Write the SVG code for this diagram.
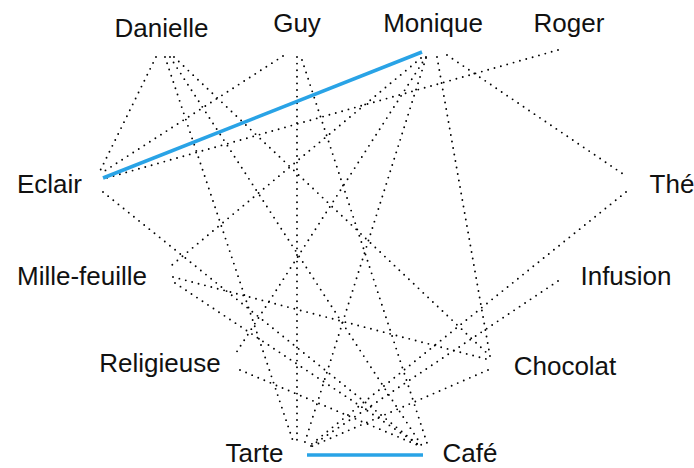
<svg xmlns="http://www.w3.org/2000/svg" width="694" height="468" viewBox="0 0 694 468">
<style>
text{font-family:"Liberation Sans",Arial,sans-serif;font-size:26px;fill:#111;text-anchor:middle}
.d{stroke:#000;stroke-width:1.9;stroke-dasharray:0 6.6;stroke-linecap:round;fill:none}
.b{stroke:#29a3e6;stroke-width:3.5;fill:none}
</style>
<rect width="694" height="468" fill="#fff"/>
<g id="connectors">
<line class="d" x1="156" y1="57" x2="100" y2="171"/>
<line class="d" x1="165" y1="57" x2="294" y2="444"/>
<line class="d" x1="170" y1="57" x2="422" y2="446"/>
<line class="d" x1="174" y1="57" x2="490" y2="356"/>
<line class="d" x1="283" y1="56" x2="103" y2="172"/>
<line class="d" x1="297" y1="57" x2="297" y2="445"/>
<line class="d" x1="302" y1="60" x2="427" y2="443"/>
<line class="d" x1="558" y1="50" x2="103" y2="179"/>
<line class="d" x1="447" y1="55" x2="626" y2="176"/>
<line class="d" x1="437" y1="57" x2="490" y2="356"/>
<line class="d" x1="426" y1="58" x2="304" y2="445"/>
<line class="d" x1="426" y1="57" x2="236" y2="353"/>
<line class="d" x1="421" y1="58" x2="172" y2="265"/>
<line class="d" x1="103" y1="192" x2="421" y2="447"/>
<line class="d" x1="175" y1="283" x2="422" y2="447"/>
<line class="d" x1="240" y1="370" x2="422" y2="447"/>
<line class="d" x1="173" y1="277" x2="490" y2="360"/>
<line class="d" x1="626" y1="192" x2="308" y2="447"/>
<line class="d" x1="558" y1="281" x2="308" y2="448"/>
<line class="d" x1="488" y1="370" x2="308" y2="448"/>
<line class="b" x1="422" y1="52" x2="103" y2="178"/>
<line class="b" x1="307" y1="455" x2="423" y2="455"/>
</g>
<g id="Danielle"><text x="161.5" y="37">Danielle</text></g>
<g id="Guy"><text x="297" y="32">Guy</text></g>
<g id="Monique"><text x="433" y="32">Monique</text></g>
<g id="Roger"><text x="569" y="32">Roger</text></g>
<g id="Eclair"><text x="49.5" y="193">Eclair</text></g>
<g id="The"><text x="672" y="193">Thé</text></g>
<g id="Mille-feuille"><text x="82" y="285">Mille-feuille</text></g>
<g id="Infusion"><text x="626" y="285">Infusion</text></g>
<g id="Religieuse"><text x="160" y="372">Religieuse</text></g>
<g id="Chocolat"><text x="565" y="375">Chocolat</text></g>
<g id="Tarte"><text x="254.5" y="462">Tarte</text></g>
<g id="Cafe"><text x="470" y="462">Café</text></g>
</svg>
